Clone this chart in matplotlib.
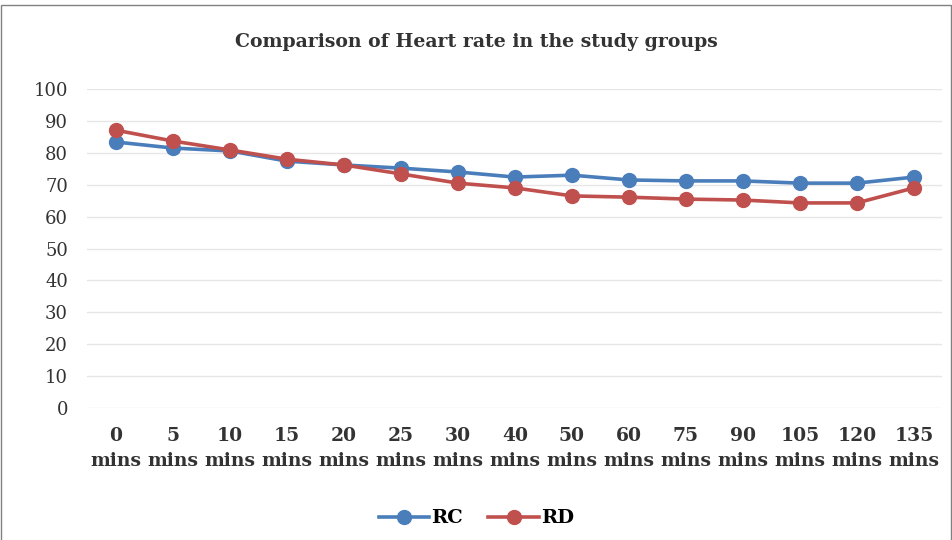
import numpy as np
import matplotlib
matplotlib.use("Agg")
import matplotlib.pyplot as plt

# heart rate over time in the two study groups
times = ["0", "5", "10", "15", "20", "25", "30", "40", "50", "60", "75", "90", "105", "120", "135"]
rc = [83.4, 81.5, 80.6, 77.4, 76.2, 75.2, 74.0, 72.4, 73.0, 71.5, 71.2, 71.2, 70.5, 70.5, 72.4]
rd = [87.1, 83.7, 80.9, 78.0, 76.2, 73.4, 70.5, 69.0, 66.5, 66.1, 65.5, 65.2, 64.3, 64.3, 69.0]
tick_labels = [t + "\nmins" for t in times]

plt.rcParams['font.family'] = ['DejaVu Serif']

fig = plt.figure(figsize=(9.53, 5.4), dpi=100)
ax = fig.add_axes([0.0918, 0.2444, 0.8971, 0.5907])

x = np.arange(len(times))
ax.plot(x, rc, color='#4a7ebb', lw=2.6, marker='o', ms=10, label='RC')
ax.plot(x, rd, color='#c0504d', lw=2.6, marker='o', ms=10, label='RD')

ax.set_xlim(-0.5, len(times) - 0.5)
ax.set_ylim(0, 100)
ax.set_yticks(range(0, 101, 10))
ax.set_xticks(x)
ax.set_xticklabels(tick_labels, fontsize=13.5, fontweight='bold', color='#333333', linespacing=1.45)
ax.tick_params(axis='y', labelsize=13, colors='#333333', length=0, pad=14)
ax.tick_params(axis='x', length=0, pad=14)
ax.grid(axis='y', color='#e6e6e6', lw=1)
ax.set_axisbelow(True)
for s in ax.spines.values():
    s.set_visible(False)

fig.text(0.5, 0.922, 'Comparison of Heart rate in the study groups', ha='center', va='center',
         fontsize=13.6, fontweight='bold', color='#333333')

fig.legend(loc='center', bbox_to_anchor=(0.5, 0.04), ncol=2, frameon=False,
           handlelength=2.6, handletextpad=0.1, columnspacing=1.3,
           prop={'weight': 'bold', 'size': 14})

# grey border round the whole picture
fig.patches.append(plt.Rectangle((0.001, -0.01), 0.997, 1.0, transform=fig.transFigure,
                                 fill=False, edgecolor='#808080', lw=1))

fig.savefig('out.png', dpi=100)
